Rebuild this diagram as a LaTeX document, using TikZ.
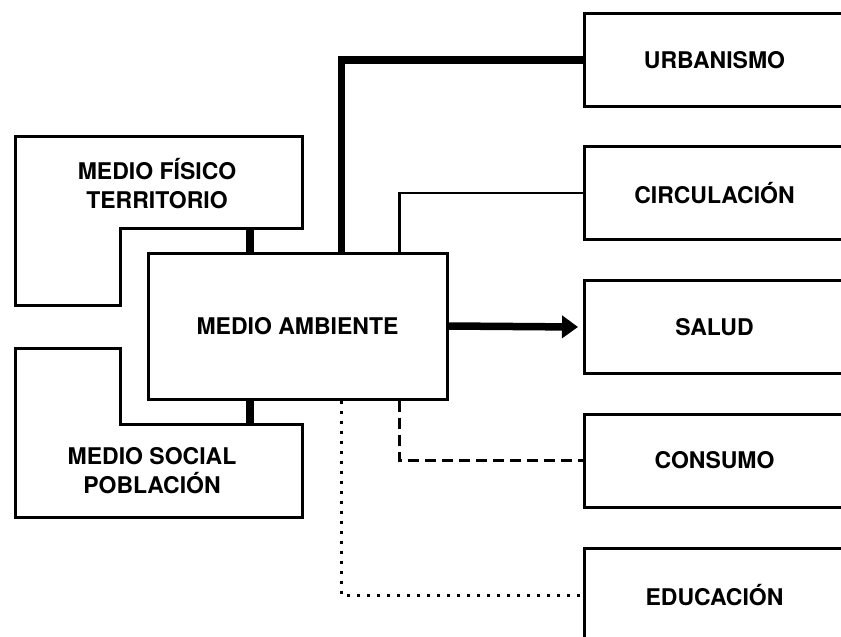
\documentclass[tikz,border=0pt]{standalone}
\usepackage{fontspec}
\setmainfont{TeX Gyre Heros}
\usetikzlibrary{arrows.meta}
\begin{document}
\begin{tikzpicture}[
    x=1pt, y=-1pt,
    every node/.style={align=center, font=\fontsize{23}{29}\selectfont\bfseries},
    box/.style={draw, line width=3pt, minimum width=260pt, minimum height=93pt, anchor=west},
    frame/.style={line width=3pt, line join=miter},
    heavy/.style={line width=7.5pt},
    light/.style={line width=2.2pt},
    dashlink/.style={line width=2.8pt, dash pattern=on 11pt off 6pt},
    dotlink/.style={line width=3pt, dash pattern=on 3pt off 7pt}
]
\useasboundingbox (0,0) rectangle (841,637);
\clip (0,0) rectangle (841,637);

% central box
\node[draw, line width=3pt, minimum width=299pt, minimum height=146pt] (amb) at (297.5,326) {MEDIO AMBIENTE};

% left boxes
\draw[frame] (15,136) -- (302,136) -- (302,228) -- (120,228) -- (120,305) -- (15,305) -- cycle;
\node (fis) at (157,183.5) {MEDIO FÍSICO\\TERRITORIO};
\draw[frame] (15,348) -- (120,348) -- (120,424) -- (302,424) -- (302,517) -- (15,517) -- cycle;
\node (soc) at (152,471) {MEDIO SOCIAL\\POBLACIÓN};
\coordinate (fisfoot) at (250,228);
\coordinate (socfoot) at (250,424);

% right boxes
\node[box] (urb) at (583,60) {URBANISMO};
\node[box] (circ) at (583,193) {CIRCULACIÓN};
\node[box] (sal) at (583,327) {SALUD};
\node[box] (cons) at (583,460.5) {CONSUMO};
\node[box] (edu) at (583,595) {EDUCACIÓN};

% links
\draw[heavy] (fisfoot) -- (fisfoot |- amb.north);
\draw[heavy] (socfoot) -- (socfoot |- amb.south);
\draw[heavy] ([xshift=195pt]amb.north west) |- (urb.west);
\draw[light] ([xshift=253pt]amb.north west) |- (circ.west);
\draw[heavy, -{Triangle[length=16pt, width=22pt]}] (amb.east) -- ([xshift=-5pt]sal.west);
\draw[dashlink] ([xshift=253pt]amb.south west) |- (cons.west);
\draw[dotlink] ([xshift=195pt]amb.south west) |- (edu.west);
\end{tikzpicture}
\end{document}
